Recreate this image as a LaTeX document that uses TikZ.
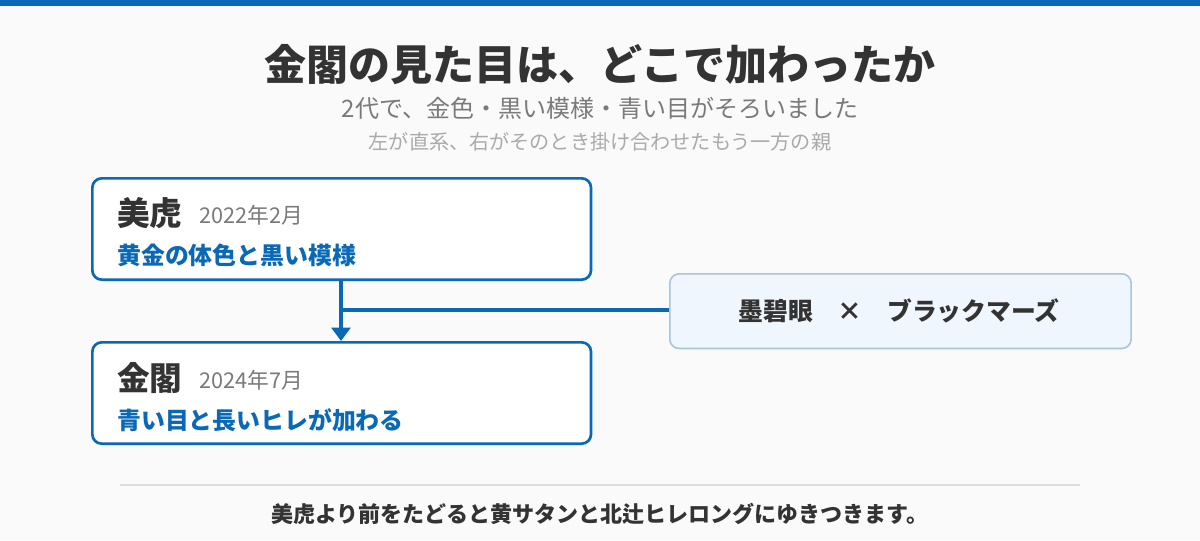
\documentclass[tikz,border=0pt]{standalone}
\usepackage{fontspec}
\setmainfont{Noto Sans CJK JP}
\usetikzlibrary{arrows.meta}
\definecolor{bl}{HTML}{0A69B7}
\definecolor{dk}{HTML}{333333}
\definecolor{gr}{HTML}{7A7A7A}
\definecolor{lg}{HTML}{AAAAAA}
\definecolor{bg}{HTML}{FAFAFA}
\definecolor{pb}{HTML}{A9C4DD}
\definecolor{pf}{HTML}{EFF6FD}
\definecolor{sep}{HTML}{DDDDDD}
\begin{document}
\begin{tikzpicture}[x=0.75pt,y=-0.75pt,
  box/.style={draw=bl,line width=2pt,rounded corners=7pt,fill=white},
  nm/.style={anchor=west,font=\fontsize{24.5}{27}\selectfont\bfseries,text=dk,inner sep=0},
  dt/.style={anchor=west,font=\fontsize{16.3}{19}\selectfont,text=gr,inner sep=0},
  ds/.style={anchor=west,font=\fontsize{17.9}{21}\selectfont\bfseries,text=bl,inner sep=0},
  conn/.style={draw=bl,line width=2.5pt}]
\useasboundingbox (0,0) rectangle (1200,540);
\fill[bg] (0,0) rectangle (1200,540);
\fill[bl] (0,0) rectangle (1200,6);
\node[font=\fontsize{31.5}{34}\selectfont\bfseries,text=dk] (t) at (600,65) {金閣の見た目は、どこで加わったか};
\node[font=\fontsize{18}{21}\selectfont,text=gr] (s1) at (600,108) {2代で、金色・黒い模様・青い目がそろいました};
\node[font=\fontsize{15.1}{18}\selectfont,text=lg] (s2) at (600,142) {左が直系、右がそのとき掛け合わせたもう一方の親};
\node[box,minimum width=374pt,minimum height=76pt,anchor=north west] (b1) at (91,177) {};
\node[nm] (n1) at (117,213) {美虎};
\node[dt] (d1) at (199,215) {2022年2月};
\node[ds] (e1) at (117,255) {黄金の体色と黒い模様};
\node[box,minimum width=374pt,minimum height=76pt,anchor=north west] (b2) at (91,341) {};
\node[nm] (n2) at (117,378) {金閣};
\node[dt] (d2) at (199,380) {2024年7月};
\node[ds] (e2) at (117,420) {青い目と長いヒレが加わる};
\node[draw=pb,line width=1.2pt,rounded corners=7pt,fill=pf,minimum width=346pt,minimum height=56pt,anchor=north west] (b3) at (669,273) {};
\node[font=\fontsize{18.6}{21}\selectfont\bfseries,text=dk] (p) at (899,311) {墨碧眼\quad ×\quad ブラックマーズ};
\coordinate (j) at (341,310);
\draw[conn] (b3.west|-j) -- (j);
\draw[conn,-{Triangle[length=10pt,width=14pt]}] (b1.south-|j) -- (b2.north-|j);
\draw[sep,line width=1pt] (120,485) -- (1080,485);
\node[font=\fontsize{16.5}{19}\selectfont\bfseries,text=dk] (f) at (600,514) {美虎より前をたどると黄サタンと北辻ヒレロングにゆきつきます。};
\end{tikzpicture}
\end{document}
